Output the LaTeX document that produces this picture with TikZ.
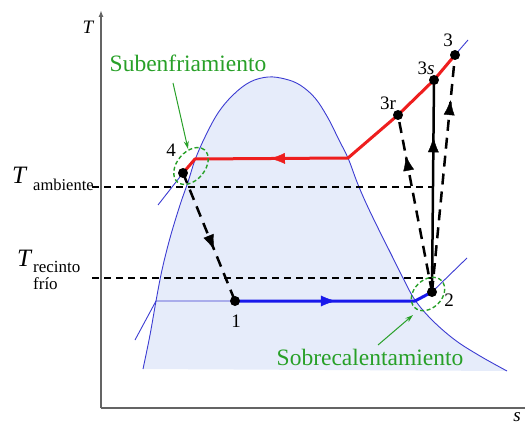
\documentclass[tikz,border=0pt]{standalone}
\usepackage{fontspec}
\setmainfont{Liberation Serif}
\usetikzlibrary{arrows.meta,decorations.markings,shapes.geometric}
\definecolor{domefill}{RGB}{230,236,250}
\definecolor{domeline}{RGB}{60,60,210}
\definecolor{isored}{RGB}{238,30,30}
\definecolor{isoblue}{RGB}{25,25,235}
\definecolor{mygreen}{RGB}{40,160,40}
\definecolor{axisgray}{RGB}{100,100,100}
\tikzset{
  midarrow/.style={postaction={decorate},decoration={markings,mark=at position #1 with {\arrow{Latex[length=15pt,width=11pt]}}}},
  thinblue/.style={domeline, line width=0.9pt},
  thickred/.style={isored, line width=3pt, line join=round},
  thickblue/.style={isoblue, line width=3pt, line join=round},
  comp/.style={black, line width=2.5pt},
  compdash/.style={black, line width=2.5pt, dash pattern=on 11pt off 7pt},
  refline/.style={black, line width=1.3pt, dash pattern=on 7pt off 5pt},
  dot/.style={circle, fill=black, inner sep=0pt, minimum size=10pt},
  numlabel/.style={font=\fontsize{19}{19}\selectfont, inner sep=0pt},
  greenlabel/.style={font=\fontsize{23.5}{24}\selectfont, text=mygreen, inner sep=0pt, anchor=base},
  greenarrow/.style={mygreen, line width=1pt, -{Stealth[length=8pt,width=5pt]}},
  zone/.style={ellipse, draw=mygreen, line width=1.4pt, dash pattern=on 4pt off 2.5pt, inner sep=0pt},
  axis/.style={axisgray, line width=1.5pt}
}
\begin{document}
\begin{tikzpicture}[x=1pt,y=-1pt]
\useasboundingbox (0,0) rectangle (525,425);
% dome fill and outline
\fill[domefill] plot[smooth, tension=0.6] coordinates {(143,369) (150,335) (156,301) (162,270) (170,238) (180,205) (188,182) (195,160) (205,137) (218,113) (233,95) (250,82) (268,77) (285,79) (300,85) (315,98) (328,118) (339,140) (348,158) (357,182) (366,203) (378,228) (391,254) (403,278) (415,300) (432,320) (455,340) (480,356) (507,371)} -- cycle;
\draw[thinblue] plot[smooth, tension=0.6] coordinates {(143,369) (150,335) (156,301) (162,270) (170,238) (180,205) (188,182) (195,160) (205,137) (218,113) (233,95) (250,82) (268,77) (285,79) (300,85) (315,98) (328,118) (339,140) (348,158) (357,182) (366,203) (378,228) (391,254) (403,278) (415,300) (432,320) (455,340) (480,356) (507,371)};
% axes
\coordinate (O) at (101,408);
\coordinate (Ytop) at (101,10);
\coordinate (Xend) at (525,408);
\draw[axis] (O) -- (Xend);
\draw[axis, -{Latex[length=7pt,width=5pt]}] (O) -- (Ytop);
\node[font=\fontsize{19}{19}\selectfont\itshape, inner sep=0pt] (Tlab) at (88,27) {T};
\node[font=\fontsize{19}{19}\selectfont\itshape, inner sep=0pt] (slab) at (517,417) {s};
% points
\coordinate (p1) at (235,301);
\coordinate (p2) at (432,292);
\coordinate (p3) at (455,55);
\coordinate (p3s) at (434,80);
\coordinate (p3r) at (398,115);
\coordinate (p4) at (183,173);
\coordinate (c4) at (195,159);
\coordinate (cg) at (348,158);
\coordinate (b2) at (415,301);
\coordinate (l0) at (135,340);
\coordinate (l1) at (156,301);
\coordinate (h0) at (158,205);
\coordinate (h3) at (468,40);
\coordinate (l3) at (467,258);
% reference temperature lines
\coordinate (ra0) at (92,187);
\coordinate (ra1) at (433,187);
\coordinate (rr0) at (92,278);
\coordinate (rr1) at (432,278);
\draw[refline] (ra0) -- (ra1);
\draw[refline] (rr0) -- (rr1);
% thin isobar extensions
\draw[thinblue] (h0) -- (p4);
\draw[thinblue] (p3) -- (h3);
\draw[thinblue] (l0) -- (l1) -- (p1);
\draw[thinblue] (p2) -- (l3);
% high-pressure isobar (red)
\draw[thickred] (p4) -- (c4) -- (cg) -- (p3r) -- (p3s) -- (p3);
\path[isored, midarrow=0.51] (cg) -- (c4);
% low-pressure isobar (blue)
\draw[thickblue] (p1) -- (b2) -- (p2);
\path[isoblue, midarrow=0.56] (p1) -- (b2);
% compression and expansion
\draw[comp] (p2) -- (p3s);
\path[midarrow=0.73] (p2) -- (p3s);
\draw[compdash] (p2) -- (p3r);
\path[midarrow=0.77] (p2) -- (p3r);
\draw[compdash] (p2) -- (p3);
\path[midarrow=0.81] (p2) -- (p3);
\draw[compdash] (p4) -- (p1);
\path[midarrow=0.6] (p4) -- (p1);
% dots
\node[dot] (n1) at (p1) {};
\node[dot] (n2) at (p2) {};
\node[dot] (n3) at (p3) {};
\node[dot] (n3s) at (p3s) {};
\node[dot] (n3r) at (p3r) {};
\node[dot] (n4) at (p4) {};
% point labels
\node[numlabel] (L1) at (236,321) {1};
\node[numlabel] (L2) at (449,300) {2};
\node[numlabel] (L3) at (448,40) {3};
\node[numlabel] (L3s) at (426,68) {3\textit{s}};
\node[numlabel] (L3r) at (388,103) {3r};
\node[numlabel] (L4) at (171,150) {4};
% temperature labels
\node[anchor=base west, font=\fontsize{25}{25}\selectfont\itshape, inner sep=0pt] (Tamb) at (12,184) {T};
\node[anchor=base west, font=\fontsize{16.5}{16.5}\selectfont, inner sep=0pt] (amb) at (33,190) {ambiente};
\node[anchor=base west, font=\fontsize{25}{25}\selectfont\itshape, inner sep=0pt] (Trec) at (17,266) {T};
\node[anchor=base west, font=\fontsize{17}{17}\selectfont, inner sep=0pt] (rec) at (33,272) {recinto};
\node[anchor=base west, font=\fontsize{17}{17}\selectfont, inner sep=0pt] (frio) at (33,289) {frío};
% green annotations
\node[zone, minimum width=42pt, minimum height=28pt, rotate=50] (z4) at (191,166) {};
\node[zone, minimum width=38pt, minimum height=28pt, rotate=45] (z2) at (428,294) {};
\node[greenlabel] (sub) at (188,72) {Subenfriamiento};
\node[greenlabel] (sob) at (370,365) {Sobrecalentamiento};
\coordinate (ga1) at (173,83);
\coordinate (ga2) at (188,149);
\coordinate (gb1) at (378,345);
\coordinate (gb2) at (413,315);
\draw[greenarrow] (ga1) -- (ga2);
\draw[greenarrow] (gb1) -- (gb2);
\end{tikzpicture}
\end{document}
